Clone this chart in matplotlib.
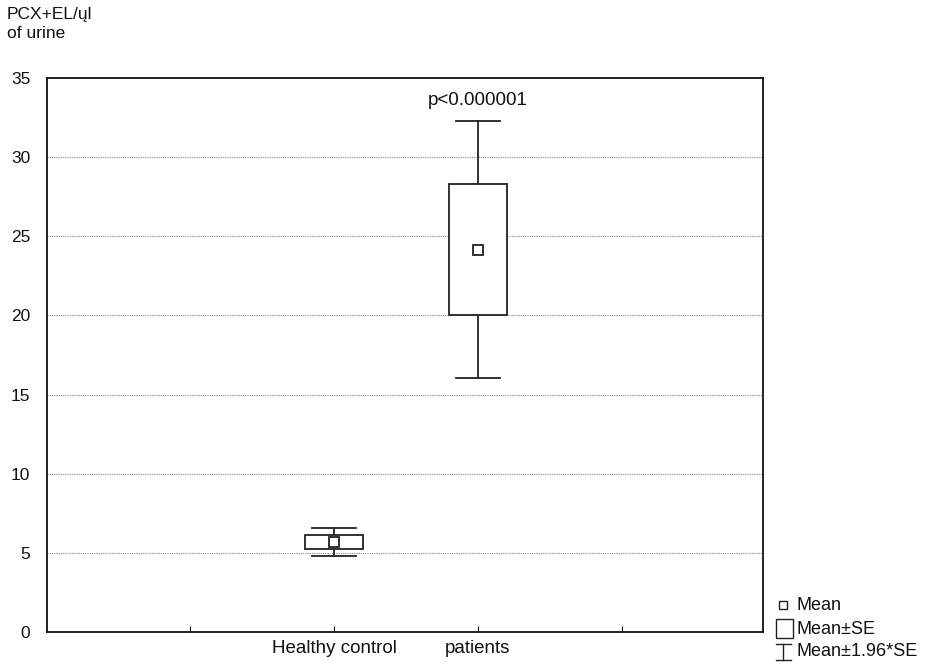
import matplotlib
matplotlib.use("Agg")
import matplotlib.pyplot as plt
from matplotlib.patches import Rectangle
from matplotlib.lines import Line2D

plt.rcParams['font.family'] = ['Liberation Sans', 'DejaVu Sans']

categories = ["Healthy control", "patients"]
means = [5.7, 24.15]
se = [0.45, 4.15]
whisker_factor = 1.96
yticks = [0, 5, 10, 15, 20, 25, 30, 35]
p_text = "p<0.000001"

fig = plt.figure(figsize=(9.28, 6.66), dpi=100)
ax = fig.add_axes([47/928, 1-632/666, (763-47)/928, (632-78)/666])

positions = [2, 3]
box_w = 0.4
cap_w = 0.31
for x, m, s in zip(positions, means, se):
    lo, hi = m - whisker_factor*s, m + whisker_factor*s
    ax.plot([x, x], [m + s, hi], color='#222222', lw=1.3, zorder=3)
    ax.plot([x, x], [lo, m - s], color='#222222', lw=1.3, zorder=3)
    ax.plot([x - cap_w/2, x + cap_w/2], [hi, hi], color='#222222', lw=1.3, zorder=3)
    ax.plot([x - cap_w/2, x + cap_w/2], [lo, lo], color='#222222', lw=1.3, zorder=3)
    ax.add_patch(Rectangle((x - box_w/2, m - s), box_w, 2*s, facecolor='white',
                           edgecolor='#222222', lw=1.3, zorder=4))
    ax.plot([x], [m], marker='s', ms=6.5, mfc='white', mec='#222222', mew=1.3, zorder=5)

ax.text(positions[1], means[1] + whisker_factor*se[1] + 1.3, p_text, ha='center', va='center',
        fontsize=13.5, color='#111111')

ax.set_xlim(0.007, 4.98)
ax.set_ylim(0, 35)
ax.set_xticks([1, 2, 3, 4])
ax.set_xticklabels(["", categories[0], categories[1], ""])
ax.set_yticks(yticks)
ax.tick_params(axis='x', labelsize=13.5, colors='#111111')
ax.tick_params(axis='y', labelsize=12.5, colors='#111111')
ax.tick_params(axis='y', length=0, pad=12)
ax.tick_params(axis='x', length=4, direction='in', pad=6)
for yv in yticks[1:-1]:
    ax.axhline(yv, color='#888888', lw=0.8, ls=(0, (1, 1)), zorder=1)
for sp in ax.spines.values():
    sp.set_linewidth(1.3)
    sp.set_color('#111111')

fig.text(7/928, 1-14/666, "PCX+EL/ųl", ha='left', va='center', fontsize=12.5, color='#111111')
fig.text(7/928, 1-33/666, "of urine", ha='left', va='center', fontsize=12.5, color='#111111')

# legend
def fx(px):
    return px/928
def fy(py):
    return 1-py/666
fig.add_artist(Rectangle((fx(779), fy(609)), 8/928, 8/666, transform=fig.transFigure,
                         facecolor='white', edgecolor='#222222', lw=1))
fig.text(fx(797), fy(605), "Mean", ha='left', va='center', fontsize=13, color='#111111')
fig.add_artist(Rectangle((fx(776), fy(638)), 17/928, 19/666, transform=fig.transFigure,
                         facecolor='white', edgecolor='#222222', lw=1))
fig.text(fx(797), fy(629), "Mean±SE", ha='left', va='center', fontsize=13, color='#111111')
for xs, ys in [([776, 791], [644, 644]), ([776, 791], [660, 660]), ([783.5, 783.5], [644, 660])]:
    fig.add_artist(Line2D([fx(v) for v in xs], [fy(v) for v in ys], transform=fig.transFigure,
                          color='#222222', lw=1))
fig.text(fx(797), fy(652), "Mean±1.96*SE", ha='left', va='center', fontsize=13, color='#111111')

fig.savefig("out.png", dpi=100)
